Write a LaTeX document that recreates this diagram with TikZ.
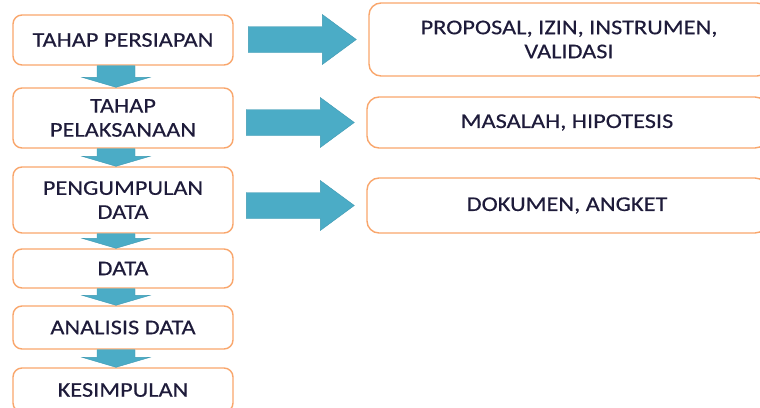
\documentclass[tikz,border=0pt]{standalone}
\usepackage{fontspec}
\setmainfont[FakeStretch=1.16,FakeBold=0.3]{Carlito}
\usetikzlibrary{calc}
\definecolor{boxorange}{HTML}{F9A66C}
\definecolor{arrowblue}{HTML}{4BACC6}
\definecolor{arrowedge}{HTML}{3F9AB3}
\definecolor{txt}{HTML}{1E1B3A}
\tikzset{
  lbox/.style={draw=boxorange, line width=1.4pt, fill=white, rounded corners=9pt,
    minimum width=220pt, align=center, text=txt, font=\fontsize{21}{24}\selectfont, inner sep=0pt},
  rbox/.style={lbox, rounded corners=12pt, minimum width=400pt},
  arr/.style={fill=arrowblue, draw=arrowedge, line width=0.4pt},
}
\newcommand\downarr[2]{%
  \path[arr] ($(#1.south)+(-26,0)$) -- ($(#2.north)+(-26,-10)$) -- ($(#2.north)+(-41,-10)$)
    -- ($(#2.north)+(-7,0)$) -- ($(#2.north)+(27,-10)$) -- ($(#2.north)+(12,-10)$)
    -- ($(#1.south)+(12,0)$) -- cycle;}
\newcommand\rightarr[1]{%
  \path[arr] ($(#1.west)+(-120,-13)$) -- ($(#1.west)+(-46,-13)$) -- ($(#1.west)+(-46,-25)$)
    -- ($(#1.west)+(-12,0)$) -- ($(#1.west)+(-46,25)$) -- ($(#1.west)+(-46,13)$)
    -- ($(#1.west)+(-120,13)$) -- cycle;}
\begin{document}
\begin{tikzpicture}[x=1pt,y=-1pt]
\useasboundingbox (0,0) rectangle (760,407);
\fill[white] (0,0) rectangle (760,407);
% left column
\node[lbox, minimum height=50pt] (l1) at (123,40) {TAHAP PERSIAPAN};
\node[lbox, minimum height=60pt] (l2) at (123,118) {TAHAP\\PELAKSANAAN};
\node[lbox, minimum height=66pt] (l3) at (123,200) {PENGUMPULAN\\DATA};
\node[lbox, minimum height=39pt] (l4) at (123,268.5) {DATA};
\node[lbox, minimum height=43pt] (l5) at (123,327.5) {ANALISIS DATA};
\node[lbox, minimum height=44pt] (l6) at (123,390) {KESIMPULAN};
% right column
\node[rbox, minimum height=73pt] (r1) at (569,39.5) {PROPOSAL, IZIN, INSTRUMEN,\\VALIDASI};
\node[rbox, minimum height=51pt] (r2) at (567,122.5) {MASALAH, HIPOTESIS};
\node[rbox, minimum height=55pt] (r3) at (567,205.5) {DOKUMEN, ANGKET};
% arrows
\downarr{l1}{l2}
\downarr{l2}{l3}
\downarr{l3}{l4}
\downarr{l4}{l5}
\downarr{l5}{l6}
\rightarr{r1}
\rightarr{r2}
\rightarr{r3}
\end{tikzpicture}
\end{document}
